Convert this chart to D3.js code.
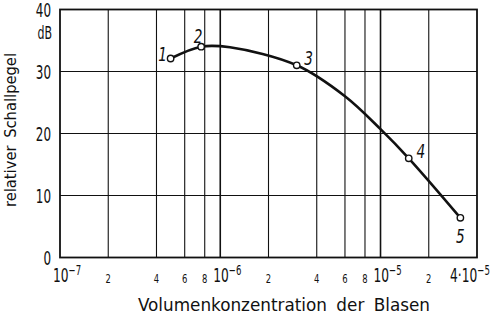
<!DOCTYPE html>
<html>
<head>
<meta charset="utf-8">
<script src="https://cdn.jsdelivr.net/npm/d3@7"></script>
<style>
  body { margin: 0; background: #fff; }
  text { font-family: "DejaVu Sans Condensed", "DejaVu Sans", sans-serif; fill: #111; }
</style>
</head>
<body>
<svg id="chart" width="500" height="316"></svg>
<script>
// measured points (Volumenkonzentration, dB)
const pointX = [4.9e-7, 7.6e-7, 3.0e-6, 1.5e-5, 3.15e-5]
const pointY = [32.1, 34.0, 31.0, 16.0, 6.4]
const pointLabels = ['1', '2', '3', '4', '5']

// smooth curve through the points
const curveX = [4.9e-7, 7.6e-7, 1.15e-6, 3.0e-6, 6.0e-6, 1.0e-5, 1.5e-5, 3.15e-5]
const curveY = [32.1, 34.0, 33.9, 31.0, 26.0, 20.7, 16.0, 6.4]

// grid
const gridX = [2e-7, 4e-7, 6e-7, 8e-7, 1e-6, 2e-6, 4e-6, 6e-6, 8e-6, 1e-5, 2e-5]
const gridY = [10, 20, 30]
const yTicks = [0, 10, 20, 30, 40]
const xTickVals = [1e-7, 2e-7, 4e-7, 6e-7, 8e-7, 1e-6, 2e-6, 4e-6, 6e-6, 8e-6, 1e-5, 2e-5, 4e-5]
const xTickText = ['10|7', '2', '4', '6', '8', '10|6', '2', '4', '6', '8', '10|5', '2', '4·10|5']

const svg = d3.select('#chart')
const x = d3.scaleLog().domain([1e-7, 4e-5]).range([60, 477])
const y = d3.scaleLinear().domain([0, 40]).range([257.5, 9.5])
const narrow = (px, py, s) => `translate(${px},${py}) scale(${s},1)`

// grid lines
svg.append('g').selectAll('line')
  .data(gridX)
  .enter()
  .append('line')
  .attr('x1', d => x(d)).attr('x2', d => x(d))
  .attr('y1', y(0)).attr('y2', y(40))
  .attr('stroke', '#111')
  .attr('stroke-width', d => (d === 1e-6 || d === 1e-5) ? 1.6 : 1.1)

svg.append('g').selectAll('line')
  .data(gridY)
  .enter()
  .append('line')
  .attr('x1', x(1e-7)).attr('x2', x(4e-5))
  .attr('y1', d => y(d)).attr('y2', d => y(d))
  .attr('stroke', '#111')
  .attr('stroke-width', 1.1)

// frame
svg.append('rect')
  .attr('x', x(1e-7)).attr('y', y(40))
  .attr('width', x(4e-5) - x(1e-7)).attr('height', y(0) - y(40))
  .attr('fill', 'none')
  .attr('stroke', '#111')
  .attr('stroke-width', 1.8)

// y tick labels
svg.append('g').selectAll('text')
  .data(yTicks)
  .enter()
  .append('text')
  .attr('transform', d => narrow(51, y(d) + 7, 0.7))
  .attr('text-anchor', 'end')
  .style('font-size', '19px')
  .text(d => d)

svg.append('text')
  .attr('transform', narrow(52, 39, 0.72))
  .attr('text-anchor', 'end')
  .style('font-size', '17px')
  .text('dB')

// x tick labels
const xl = svg.append('g').selectAll('text')
  .data(xTickVals)
  .enter()
  .append('text')

xl.each(function (d, i) {
  const parts = xTickText[i].split('|')
  const t = d3.select(this)
  if (parts.length === 1) {
    t.attr('transform', narrow(x(d), 283, 0.72))
      .attr('text-anchor', 'middle')
      .style('font-size', '13px')
      .text(parts[0])
  } else {
    // "10" centred on the grid line, exponent hanging to the right
    const w = parts[0].length > 2 ? 20 : 0
    t.attr('transform', narrow(x(d) - 7 - w, 282, 0.68))
      .style('font-size', '20px')
    t.append('tspan').text(parts[0])
    t.append('tspan').attr('dy', -7).style('font-size', '14px').text('−' + parts[1])
  }
})

// axis titles
svg.append('text')
  .attr('x', 138).attr('y', 311)
  .attr('textLength', 292)
  .attr('lengthAdjust', 'spacingAndGlyphs')
  .style('font-size', '18.5px')
  .style('word-spacing', '4px')
  .text('Volumenkonzentration der Blasen')

svg.append('text')
  .attr('transform', 'translate(15.5,207) rotate(-90)')
  .attr('textLength', 154)
  .attr('lengthAdjust', 'spacingAndGlyphs')
  .style('font-size', '16px')
  .style('word-spacing', '3px')
  .text('relativer Schallpegel')

// curve
const line = d3.line()
  .x(d => x(d[0]))
  .y(d => y(d[1]))
  .curve(d3.curveCatmullRom.alpha(0.5))

svg.append('path')
  .datum(curveX.map((v, i) => [v, curveY[i]]))
  .attr('d', line)
  .attr('fill', 'none')
  .attr('stroke', '#111')
  .attr('stroke-width', 2.6)

// points
svg.append('g').selectAll('circle')
  .data(pointX)
  .enter()
  .append('circle')
  .attr('cx', d => x(d))
  .attr('cy', (d, i) => y(pointY[i]))
  .attr('r', 3.2)
  .attr('fill', '#fff')
  .attr('stroke', '#111')
  .attr('stroke-width', 1.4)

// point labels (offset from each point)
const labelDx = [-8, -3, 12, 12, 0]
const labelDy = [-4, -11, -7, -7, 18]
svg.append('g').selectAll('text')
  .data(pointLabels)
  .enter()
  .append('text')
  .attr('transform', (d, i) => narrow(x(pointX[i]) + labelDx[i], y(pointY[i]) + labelDy[i] + 7, 0.8))
  .attr('text-anchor', 'middle')
  .style('font-size', '19px')
  .style('font-style', 'italic')
  .text(d => d)
</script>
</body>
</html>
